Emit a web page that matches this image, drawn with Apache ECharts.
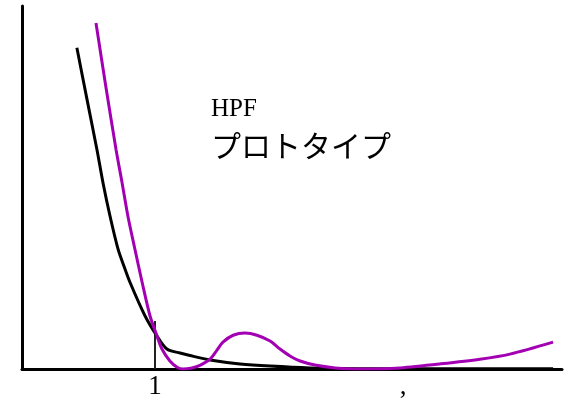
<!DOCTYPE html>
<html>
<head>
<meta charset="utf-8">
<script src="https://cdn.jsdelivr.net/npm/echarts@6/dist/echarts.min.js"></script>
<style>html,body{margin:0;padding:0;background:#fff}#c{width:570px;height:400px}</style>
</head>
<body>
<div id="c"></div>
<script>
// Black curve (x, amplitude)
const blackX = [0.685,0.726,0.766,0.790,0.819,0.851,0.875,0.899,0.960,1.008,1.048,1.101,1.141,1.222,1.343,1.464,1.625,1.827,2.190,2.605];
const blackY = [8.85,7.42,6.04,5.14,4.20,3.30,2.83,2.39,1.46,0.91,0.55,0.44,0.37,0.25,0.14,0.08,0.03,0.01,0.01,0.01];
// Purple curve
const purpleX = [0.762,0.802,0.843,0.867,0.891,0.919,0.948,0.980,1.008,1.028,1.060,1.089,1.113,1.149,1.181,1.222,1.250,1.274,1.315,1.363,1.411,1.464,1.504,1.544,1.585,1.645,1.726,1.806,1.887,1.988,2.149,2.310,2.431,2.605];
const purpleY = [9.53,7.77,6.04,5.14,4.20,3.30,2.39,1.46,0.91,0.55,0.22,0.05,0.00,0.03,0.10,0.27,0.52,0.74,0.93,0.99,0.93,0.77,0.55,0.36,0.22,0.11,0.03,0.00,0.00,0.03,0.14,0.27,0.41,0.74];
const tickValues = [1, 2];
const tickLabels = ['1', ','];
const titleLine1 = 'HPF';
const titleLine2 = 'プロトタイプ';

const zip = (xs, ys) => xs.map((x, i) => [x, ys[i]]);
const chart = echarts.init(document.getElementById('c'));
chart.setOption({
  animation: false,
  backgroundColor: '#fff',
  title: [
    {text: titleLine1, left: 211, top: 97, padding: 0, textStyle: {fontFamily: 'Liberation Serif', fontSize: 25, fontWeight: 'normal', color: '#000'}},
    {text: titleLine2, left: 211, top: 131, padding: 0, textStyle: {fontFamily: 'Noto Sans CJK JP', fontSize: 30, fontWeight: 'normal', color: '#000'}}
  ],
  grid: {left: 22, right: 8, top: 6, bottom: 30},
  xAxis: {
    type: 'value', min: 0.4637, max: 2.641,
    axisLine: {show: true, onZero: false, lineStyle: {color: '#000', width: 3}},
    splitLine: {show: false},
    axisTick: {show: true, inside: true, length: 48, customValues: [tickValues[0]], lineStyle: {color: '#222', width: 2}},
    axisLabel: {customValues: tickValues, margin: 4, color: '#000', fontFamily: 'Liberation Serif', fontSize: 27,
      formatter: v => tickLabels[tickValues.indexOf(v)] || ''}
  },
  yAxis: {
    type: 'value', min: 0, max: 10,
    axisLine: {show: true, onZero: false, lineStyle: {color: '#000', width: 3}},
    splitLine: {show: false}, axisTick: {show: false}, axisLabel: {show: false}
  },
  series: [
    {type: 'line', data: zip(blackX, blackY), showSymbol: false, smooth: 0.3, lineStyle: {color: '#000', width: 3}, z: 3},
    {type: 'line', data: zip(purpleX, purpleY), showSymbol: false, smooth: 0.3, lineStyle: {color: '#a300b4', width: 3}, z: 4}
  ]
});
</script>
</body>
</html>
